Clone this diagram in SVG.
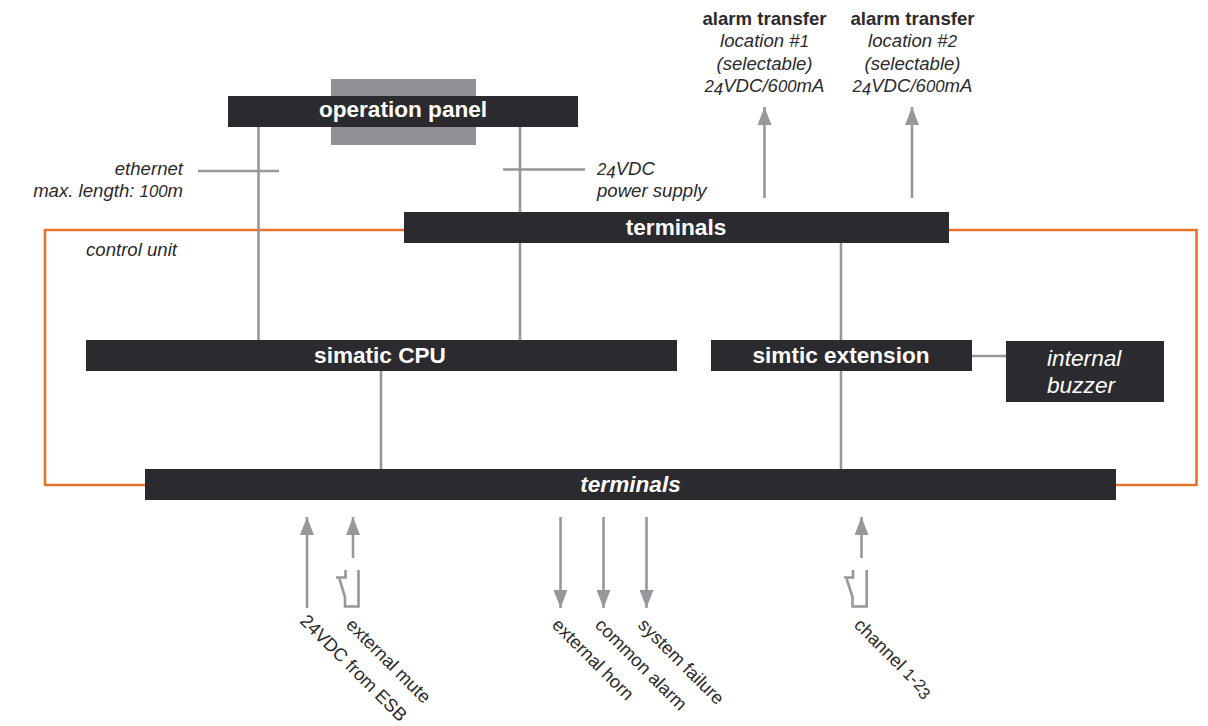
<svg xmlns="http://www.w3.org/2000/svg" width="1208" height="726" viewBox="0 0 1208 726">
<style>
text{font-family:"Liberation Sans",Arial,sans-serif}
.box{fill:#2b2a2e}
.t{fill:#fff;font-weight:700;font-size:22.600px;text-anchor:middle}
.ti{fill:#fff;font-size:22.700px;font-style:italic}
.l{fill:#2b2a2e;font-size:18.600px;font-style:italic}
.m{text-anchor:middle}.e{text-anchor:end}
.b{font-weight:700;font-style:normal}
.r{fill:#2b2a2e;font-size:18.300px}
.s{font-size:90%}
.g{fill:none;stroke:#98979b;stroke-width:2.600}
.o{fill:none;stroke:#e8732a;stroke-width:2.600}
</style>
<defs>
<marker id="a" markerUnits="userSpaceOnUse" viewBox="0 0 18 14" markerWidth="18" markerHeight="14" refX="18" refY="7" orient="auto"><path d="M0 0L18 7L0 14Z" fill="#98979b"/></marker>
</defs>
<rect x="331" y="79" width="145" height="66" fill="#929095"/>
<g id="connectors">
<path class="o" d="M404 230H45V485H145"/>
<path class="o" d="M949 230H1196.500V485H1116"/>
<path class="g" d="M258.500 127V340M198 171H279"/>
<path class="g" d="M520 127V340M503 169.500H585"/>
<path class="g" d="M841 243V340M841 371V469M381 371V469M972 356H1006"/>
<path class="g" d="M764.500 198V107" marker-end="url(#a)"/>
<path class="g" d="M912 198V107" marker-end="url(#a)"/>
<path class="g" d="M307 608V517" marker-end="url(#a)"/>
<path class="g" d="M353 558V517" marker-end="url(#a)"/>
<path class="g" d="M861.500 558V517" marker-end="url(#a)"/>
<path class="g" d="M560.500 517V608" marker-end="url(#a)"/>
<path class="g" d="M603.500 517V608" marker-end="url(#a)"/>
<path class="g" d="M646.500 517V608" marker-end="url(#a)"/>
<path class="g" d="M358.500 570V606.500H345V597L339.500 579M336 577.500H345.500V570"/>
<path class="g" d="M866.700 570V606.500H852.500V597L846.700 579M844 577.500H853V570"/>
</g>
<g id="operation-panel"><rect class="box" x="228" y="96" width="350" height="31"/><text class="t" x="403" y="117">operation panel</text></g>
<g id="terminals-top"><rect class="box" x="404" y="212" width="545" height="31"/><text class="t" x="676" y="235">terminals</text></g>
<g id="simatic-cpu"><rect class="box" x="86" y="340" width="591" height="31"/><text class="t" x="380" y="363">simatic CPU</text></g>
<g id="simatic-extension"><rect class="box" x="711" y="340" width="261" height="31"/><text class="t" x="841" y="363">simtic extension</text></g>
<g id="internal-buzzer"><rect class="box" x="1006" y="341" width="158" height="61"/><text class="ti" x="1047" y="366">internal</text><text class="ti" x="1047" y="393">buzzer</text></g>
<g id="terminals-bottom"><rect class="box" x="145" y="469" width="971" height="31"/><text class="t" x="630.500" y="492" font-style="italic">terminals</text></g>
<g id="labels">
<text class="l e" x="183" y="175">ethernet</text>
<text class="l e" x="183" y="197">max. length: <tspan class="s">100</tspan>m</text>
<text class="l" x="86" y="256">control unit</text>
<text class="l" x="597" y="175"><tspan class="s">2</tspan><tspan class="s" dy="3">4</tspan><tspan dy="-3">VDC</tspan></text>
<text class="l" x="597" y="197">power supply</text>
<text class="l m b" x="764.500" y="25">alarm transfer</text>
<text class="l m" x="764.500" y="47">location #<tspan class="s">1</tspan></text>
<text class="l m" x="764.500" y="70">(selectable)</text>
<text class="l m" x="764.500" y="92"><tspan class="s">2</tspan><tspan class="s" dy="3">4</tspan><tspan dy="-3">VDC/6</tspan><tspan class="s">00</tspan>mA</text>
<text class="l m b" x="912.500" y="25">alarm transfer</text>
<text class="l m" x="912.500" y="47">location #<tspan class="s">2</tspan></text>
<text class="l m" x="912.500" y="70">(selectable)</text>
<text class="l m" x="912.500" y="92"><tspan class="s">2</tspan><tspan class="s" dy="3">4</tspan><tspan dy="-3">VDC/6</tspan><tspan class="s">00</tspan>mA</text>
<text class="r" transform="translate(299,622) rotate(45)">24VDC from ESB</text>
<text class="r" transform="translate(345,626) rotate(45)">external mute</text>
<text class="r" transform="translate(551,626) rotate(45)">external horn</text>
<text class="r" transform="translate(594,626) rotate(45)">common alarm</text>
<text class="r" transform="translate(637,626) rotate(45)">system failure</text>
<text class="r" transform="translate(853,626) rotate(45)">channel <tspan class="s">1</tspan>-<tspan class="s">2</tspan><tspan class="s" dy="3">3</tspan></text>
</g>
</svg>
